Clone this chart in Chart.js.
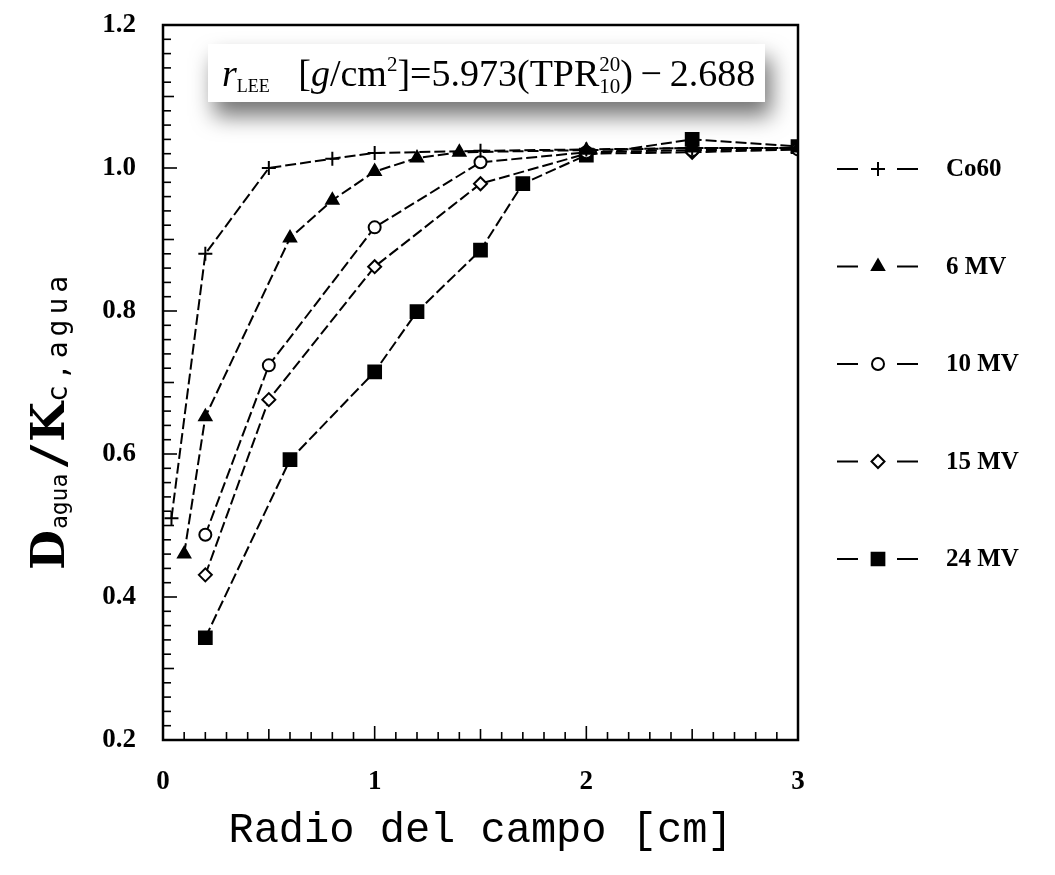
<!DOCTYPE html>
<html><head><meta charset="utf-8">
<script src="https://cdn.jsdelivr.net/npm/chart.js@4.4.1/dist/chart.umd.min.js"></script>
<style>html,body{margin:0;padding:0;background:#fff;}canvas{display:block;}</style>
</head><body>
<canvas id="c" width="1055" height="875"></canvas>
<script>
// ---- data ----
const seriesLabels = ['Co60', '6 MV', '10 MV', '15 MV', '24 MV'];
const co60X = [0.04, 0.2, 0.5, 0.8, 1.0, 1.5, 2.0, 2.5, 3.0];
const co60Y = [0.51, 0.88, 1.0, 1.013, 1.021, 1.024, 1.026, 1.028, 1.028];
const mv6X = [0.1, 0.2, 0.6, 0.8, 1.0, 1.2, 1.4, 2.0, 2.5, 3.0];
const mv6Y = [0.46, 0.652, 0.902, 0.955, 0.995, 1.014, 1.022, 1.025, 1.028, 1.028];
const mv10X = [0.2, 0.5, 1.0, 1.5, 2.0, 2.5, 3.0];
const mv10Y = [0.487, 0.724, 0.917, 1.008, 1.022, 1.025, 1.026];
const mv15X = [0.2, 0.5, 1.0, 1.5, 2.0, 2.5, 3.0];
const mv15Y = [0.431, 0.676, 0.862, 0.978, 1.02, 1.022, 1.026];
const mv24X = [0.2, 0.6, 1.0, 1.2, 1.5, 1.7, 2.0, 2.5, 3.0];
const mv24Y = [0.343, 0.592, 0.715, 0.799, 0.885, 0.978, 1.018, 1.040, 1.030];
const xTickValues = [0, 1, 2, 3];
const yTickValues = [0.2, 0.4, 0.6, 0.8, 1.0, 1.2];
const xAxisTitle = 'Radio del campo [cm]';

const pts = (xs, ys) => xs.map((x, i) => ({x: x, y: ys[i]}));

const styles = [
  {pointStyle: 'cross', radius: 7, bg: '#000'},
  {pointStyle: 'triangle', radius: 7, bg: '#000'},
  {pointStyle: 'circle', radius: 6, bg: '#fff'},
  {pointStyle: 'rectRot', radius: 6.5, bg: '#fff'},
  {pointStyle: 'rect', radius: 9, bg: '#000'}
];
const seriesData = [pts(co60X, co60Y), pts(mv6X, mv6Y), pts(mv10X, mv10Y), pts(mv15X, mv15Y), pts(mv24X, mv24Y)];

const datasets = seriesLabels.map((lab, i) => ({
  label: lab,
  data: seriesData[i],
  borderColor: '#000',
  borderWidth: 2,
  borderDash: [11, 4],
  tension: 0,
  fill: false,
  pointStyle: styles[i].pointStyle,
  pointRadius: styles[i].radius,
  pointBackgroundColor: styles[i].bg,
  pointBorderColor: '#000',
  pointBorderWidth: 2
}));

function drawRuns(ctx, runs, x, y) {
  let cx = x;
  runs.forEach(r => {
    ctx.font = r.font;
    ctx.letterSpacing = r.ls || '0px';
    if (r.gap) cx += r.gap;
    if (r.stack) {
      const w1 = ctx.measureText(r.sup).width, w2 = ctx.measureText(r.sub).width;
      ctx.fillText(r.sup, cx, y + r.supDy);
      ctx.fillText(r.sub, cx, y + r.subDy);
      cx += Math.max(w1, w2);
    } else {
      ctx.fillText(r.t, cx, y + (r.dy || 0));
      cx += ctx.measureText(r.t).width;
    }
    ctx.letterSpacing = '0px';
  });
  return cx - x;
}

const decor = {
  id: 'decor',
  afterDraw(chart) {
    const ctx = chart.ctx, a = chart.chartArea;
    const xs = chart.scales.x, ys = chart.scales.y;
    ctx.save();
    // frame
    ctx.strokeStyle = '#000'; ctx.lineWidth = 2.5; ctx.setLineDash([]);
    ctx.strokeRect(a.left, a.top, a.right - a.left, a.bottom - a.top);
    // inward ticks
    ctx.lineWidth = 1.6;
    for (let i = 0; i <= 50; i++) {
      const v = 0.2 + i * 0.02, py = ys.getPixelForValue(v);
      const len = (i % 10 === 0) ? 14 : (i % 5 === 0 ? 11 : 8);
      ctx.beginPath(); ctx.moveTo(a.left, py); ctx.lineTo(a.left + len, py); ctx.stroke();
    }
    for (let i = 0; i <= 30; i++) {
      const px = xs.getPixelForValue(i * 0.1);
      const len = (i % 10 === 0) ? 14 : (i % 5 === 0 ? 11 : 8);
      ctx.beginPath(); ctx.moveTo(px, a.bottom); ctx.lineTo(px, a.bottom - len); ctx.stroke();
    }
    // equation box
    ctx.save();
    ctx.shadowColor = 'rgba(0,0,0,0.55)'; ctx.shadowBlur = 22; ctx.shadowOffsetX = 6; ctx.shadowOffsetY = 14;
    ctx.fillStyle = '#fff';
    ctx.fillRect(208, 44, 557, 58);
    ctx.restore();
    ctx.fillStyle = '#fff'; ctx.fillRect(208, 44, 557, 58);
    ctx.fillStyle = '#000'; ctx.textBaseline = 'alphabetic'; ctx.textAlign = 'left';
    const S = "'Liberation Serif', 'Times New Roman', serif";
    drawRuns(ctx, [
      {t: 'r', font: 'italic 38px ' + S},
      {t: 'LEE', font: '18px ' + S, dy: 6},
      {t: '   [', font: '38px ' + S},
      {t: 'g', font: 'italic 38px ' + S},
      {t: '/cm', font: '38px ' + S},
      {t: '2', font: '21px ' + S, dy: -15},
      {t: ']=5.973(TPR', font: '38px ' + S},
      {stack: true, sup: '20', sub: '10', font: '21px ' + S, supDy: -15, subDy: 7},
      {t: ')\u2009\u2212\u20092.688', font: '38px ' + S}
    ], 222, 86);
    // legend
    const legTop = 169, legStep = 97.5;
    chart.data.datasets.forEach((ds, i) => {
      const cy = legTop + i * legStep;
      ctx.strokeStyle = '#000'; ctx.lineWidth = 2; ctx.setLineDash([]);
      ctx.beginPath(); ctx.moveTo(837, cy); ctx.lineTo(858, cy); ctx.moveTo(897, cy); ctx.lineTo(918, cy); ctx.stroke();
      ctx.fillStyle = ds.pointBackgroundColor; ctx.strokeStyle = '#000'; ctx.lineWidth = 2;
      Chart.helpers.drawPoint(ctx, {pointStyle: ds.pointStyle, radius: ds.pointRadius, rotation: 0, borderWidth: 2}, 878, cy);
      ctx.fillStyle = '#000';
      ctx.font = 'bold 25px ' + S; ctx.textBaseline = 'middle';
      ctx.fillText(ds.label, 946, cy + 1);
    });
    // y title
    ctx.translate(64, 570); ctx.rotate(-Math.PI / 2);
    ctx.textBaseline = 'alphabetic'; ctx.fillStyle = '#000';
    drawRuns(ctx, [
      {t: 'D', font: "bold 46px 'DejaVu Serif'"},
      {t: 'agua', font: "23px 'DejaVu Sans Mono'", dy: 3, gap: 1},
      {t: '/', font: "bold 46px 'DejaVu Sans Mono'", gap: 4},
      {t: 'K', font: "bold 46px 'DejaVu Serif'"},
      {t: 'c,agua', font: "28px 'DejaVu Sans Mono'", dy: 3, ls: '5px'}
    ], 0, 0);
    ctx.restore();
  }
};

new Chart(document.getElementById('c'), {
  type: 'line',
  data: {datasets: datasets},
  options: {
    responsive: false,
    animation: false,
    layout: {padding: {top: 25, right: 257, bottom: 0, left: 0}},
    plugins: {legend: {display: false}, tooltip: {enabled: false}},
    scales: {
      x: {
        type: 'linear', min: 0, max: 3,
        afterBuildTicks: s => { s.ticks = xTickValues.map(v => ({value: v})); },
        afterFit: s => { s.height = 135; s.paddingLeft = 0; s.paddingRight = 0; },
        grid: {display: false},
        border: {display: false},
        ticks: {color: '#000', padding: 18, font: {family: "'Liberation Serif', serif", size: 27, weight: 'bold'}, callback: v => String(v)},
        title: {display: true, text: xAxisTitle, color: '#000', font: {family: "'Liberation Mono', monospace", size: 42}, padding: {top: 0, bottom: 19}}
      },
      y: {
        type: 'linear', min: 0.2, max: 1.2,
        afterBuildTicks: s => { s.ticks = yTickValues.map(v => ({value: v})); },
        afterFit: s => { s.width = 163; s.paddingTop = 0; s.paddingBottom = 0; },
        grid: {display: false},
        border: {display: false},
        ticks: {color: '#000', padding: 19, font: {family: "'Liberation Serif', serif", size: 27, weight: 'bold'}, callback: v => Number(v).toFixed(1)}
      }
    }
  },
  plugins: [decor]
});
</script>
</body></html>
